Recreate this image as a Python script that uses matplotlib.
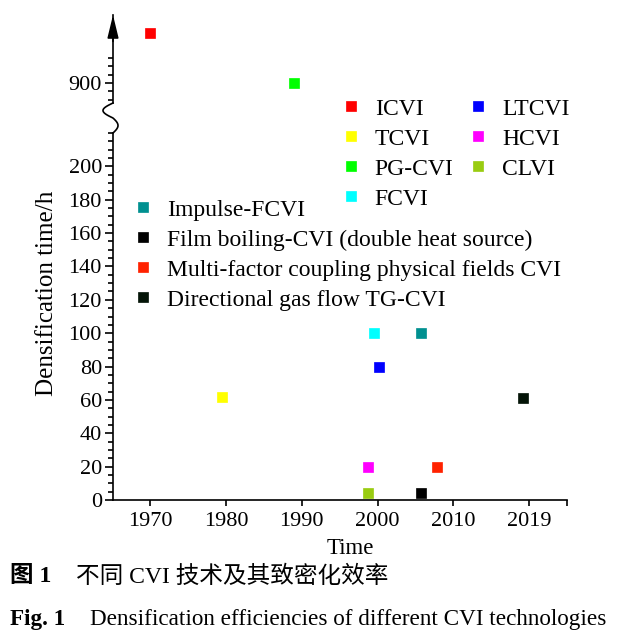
import numpy as np
import matplotlib
matplotlib.use('Agg')
import matplotlib.pyplot as plt
from matplotlib.lines import Line2D

plt.rcParams['font.family'] = ['Liberation Serif', 'Noto Sans CJK SC']

# data: (label, year, hours, colour)
labels = ['ICVI', 'TCVI', 'PG-CVI', 'FCVI', 'LTCVI', 'HCVI', 'CLVI',
          'Impulse-FCVI', 'Film boiling-CVI (double heat source)',
          'Multi-factor coupling physical fields CVI', 'Directional gas flow TG-CVI']
years = [1970, 1979.5, 1989, 1999.5, 2000.2, 1998.8, 1998.8, 2005.8, 2005.8, 2007.8, 2019.2]
hours = [930, 62, 900, 100, 80, 20, 4, 100, 4, 20, 61]
colors = ['#ff0000', '#ffff00', '#00ff00', '#00ffff', '#0000ff', '#ff00ff', '#99cc11',
          '#009090', '#000000', '#ff2200', '#041407']
xtick_pos = [1970, 1980, 1990, 2000, 2010, 2020]
xtick_labels = ['1970', '1980', '1990', '2000', '2010', '2019']

W, H = 618, 641
fig = plt.figure(figsize=(W / 100, H / 100), dpi=100)

def fx(px):
    return px / W

def fy(py):
    return 1 - py / H

lw = 1.2
fs = 16
lfs = 17

# lower (main) axes
ax = fig.add_axes([fx(113), fy(500), fx(567) - fx(113), fy(133) - fy(500)])
ax.set_xlim(1965.1, 2025)
ax.set_ylim(0, 220)
for s in ['top', 'right']:
    ax.spines[s].set_visible(False)
for s in ['left', 'bottom']:
    ax.spines[s].set_linewidth(lw)
ax.set_yticks(np.arange(0, 201, 20))
ax.set_yticks(np.arange(0, 221, 5), minor=True)
ax.set_xticks(xtick_pos)
ax.set_xticklabels(xtick_labels)
ax.set_xticks([2025], minor=True)
ax.tick_params(axis='y', which='major', length=6, width=lw, labelsize=fs, pad=2)
ax.tick_params(axis='y', which='minor', length=3.5, width=lw)
ax.tick_params(axis='x', which='both', length=4.5, width=lw, labelsize=fs, pad=4)

# upper axes (after the break)
axt = fig.add_axes([fx(113), fy(103), fx(567) - fx(113), fy(15) - fy(103)], sharex=ax)
axt.set_ylim(888, 940.7)
for s in ['top', 'right', 'bottom']:
    axt.spines[s].set_visible(False)
axt.spines['left'].set_linewidth(lw)
axt.set_yticks([900])
axt.set_yticks([890, 895, 905, 910, 915], minor=True)
axt.tick_params(axis='y', which='major', length=6, width=lw, labelsize=fs, pad=2)
axt.tick_params(axis='y', which='minor', length=3.5, width=lw)
axt.tick_params(axis='x', which='both', bottom=False, labelbottom=False)
axt.patch.set_visible(False)
axt.annotate('', xy=(0, 1.0), xytext=(0, 0.7), xycoords='axes fraction',
             arrowprops=dict(arrowstyle='-|>,head_length=0.7,head_width=0.17',
                             color='k', lw=lw, mutation_scale=20, shrinkA=0, shrinkB=0))

# break squiggle between the two axes
t = np.linspace(0, 1, 60)
amp = np.where(t < 0.5, 10, 5)
bx = 113 - amp * np.sin(2 * np.pi * t)
by = 103 + 30 * t
fig.add_artist(Line2D(fx(bx), fy(by), transform=fig.transFigure, color='k', lw=lw))

handles = []
for lab, x, y, c in zip(labels, years, hours, colors):
    target = axt if y > 500 else ax
    target.plot([x], [y], ls='none', marker='s', ms=7.2, mfc=c, mec=c, mew=0.5,
                clip_on=False, zorder=5)
    handles.append(Line2D([], [], ls='none', marker='s', ms=7.2, mfc=c, mec=c, mew=0.5))

leg_kw = dict(frameon=False, fontsize=lfs, loc='upper left', borderpad=0, borderaxespad=0,
              handlelength=0.8, handletextpad=0.6, labelspacing=0.36)
leg1 = fig.legend(handles[:7], labels[:7], ncol=2, columnspacing=0.65,
                  bbox_to_anchor=(fx(341.6), fy(98)), **leg_kw)
leg2 = fig.legend(handles[7:], labels[7:], ncol=1,
                  bbox_to_anchor=(fx(133.6), fy(199)), **leg_kw)

fig.text(fx(47), fy(293), 'Densification time/h', rotation=90, fontsize=18,
         ha='center', va='center')
fig.text(fx(350), fy(548), 'Time', fontsize=16.5, ha='center', va='center')

fig.text(fx(10), fy(577), '图 1', fontsize=17, fontweight='bold', ha='left', va='center')
fig.text(fx(76), fy(577), '不同 CVI 技术及其致密化效率', fontsize=17, ha='left', va='center')
fig.text(fx(10), fy(619), 'Fig. 1', fontsize=16.7, fontweight='bold', ha='left', va='center')
fig.text(fx(90), fy(619), 'Densification efficiencies of different CVI technologies',
         fontsize=16.7, ha='left', va='center')

fig.savefig('out.png', dpi=100)
